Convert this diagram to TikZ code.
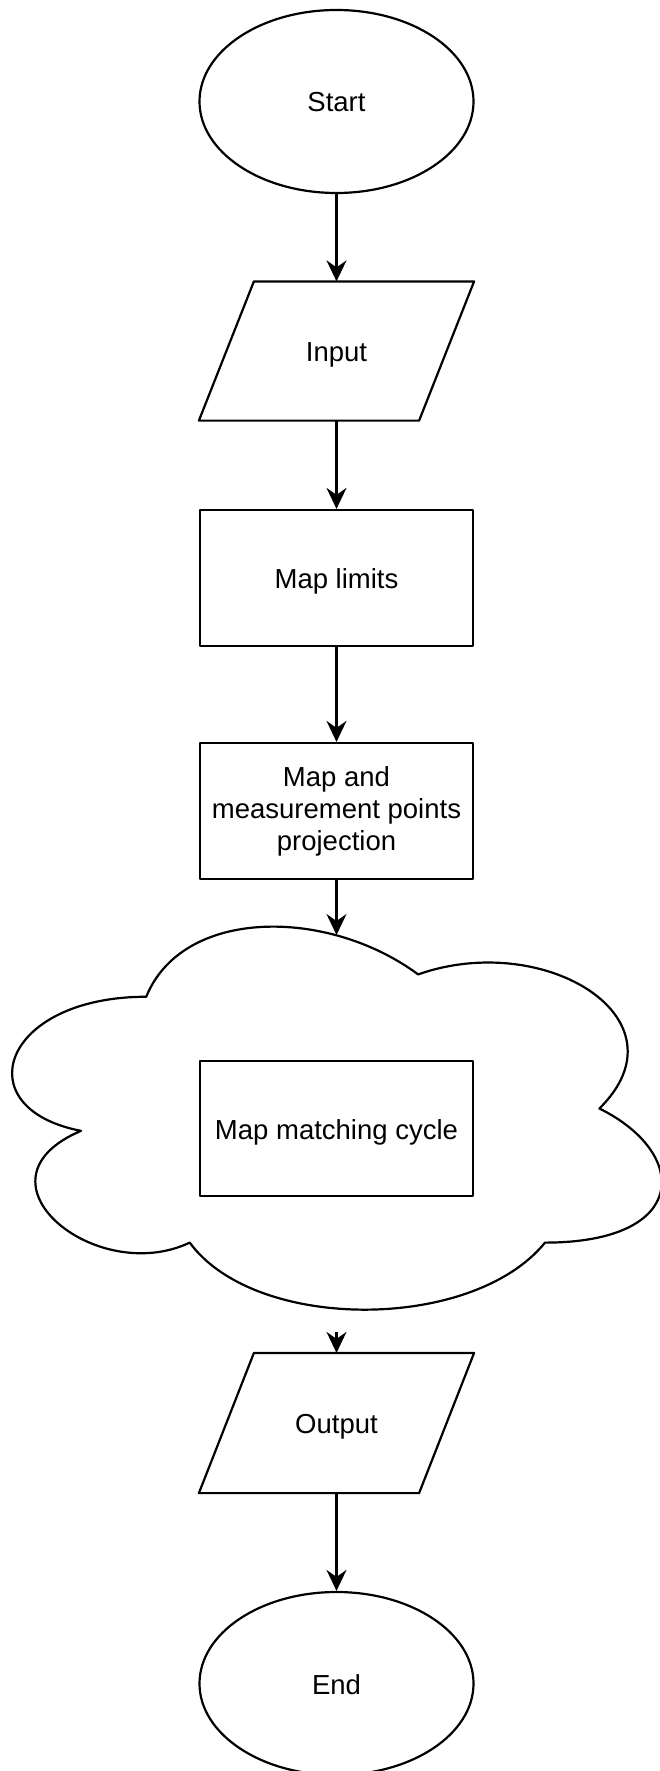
\documentclass[tikz,border=0pt]{standalone}
\usepackage{fontspec}
\setmainfont{Liberation Sans}
\usetikzlibrary{arrows.meta,shapes.geometric}

\begin{document}
\begin{tikzpicture}[x=1pt, y=-1pt, line width=2.2pt, line join=round,
  every node/.style={font=\fontsize{27.5}{32}\selectfont, align=center, inner sep=0pt},
  oneline/.style={text height=21pt, text depth=0pt},
  term/.style={draw, ellipse, oneline, minimum width=274pt, minimum height=183pt},
  procbox/.style={draw, rectangle, minimum width=273pt, minimum height=136pt},
  iobox/.style={rectangle, oneline, minimum width=273pt, minimum height=137pt},
  arr/.style={-{Stealth[length=21pt, width=20pt, inset=7pt]}}]
  \useasboundingbox (0,0) rectangle (659,1771);

  % terminals, steps and data boxes
  \node[term] (start) at (336.5,101.5) {Start};
  \node[iobox] (input) at (336.5,351) {Input};
  \node[procbox, oneline] (limits) at (336.5,578) {Map limits};
  \node[procbox] (proj) at (336.5,811) {Map and\\measurement points\\projection};
  \node[procbox, oneline, minimum height=135pt] (cycle) at (336.5,1128.5) {Map matching cycle};
  \node[iobox, minimum height=138pt] (output) at (336.5,1423) {Output};
  \node[term] (end) at (336.5,1683.5) {End};

  % parallelograms for the data boxes
  \foreach \n in {input, output}
    \draw ([xshift=55pt]\n.north west) -- (\n.north east)
          -- ([xshift=-55pt]\n.south east) -- (\n.south west) -- cycle;

  % cloud around the matching loop
  \begin{scope}[shift={(-35,885)}, x=7.25pt, y=-4.47pt]
    \draw (25,25) .. controls (5,25) and (0,50) .. (16,55)
      .. controls (0,66) and (18,90) .. (31,80)
      .. controls (40,100) and (70,100) .. (80,80)
      .. controls (100,80) and (100,60) .. (87.5,50)
      .. controls (100,30) and (80,10) .. (62.5,20)
      .. controls (50,5) and (30,5) .. (25,25) -- cycle;
  \end{scope}
  \coordinate (cloudtop) at (336.5,935);
  \coordinate (cloudbot) at (336.5,1332);

  % connectors
  \draw[arr] (start) -- (input);
  \draw[arr] (input) -- (limits);
  \draw[arr] (limits) -- (proj);
  \draw[arr] (proj) -- (cloudtop);
  \draw[arr] (cloudbot) -- (output);
  \draw[arr] (output) -- (end);
\end{tikzpicture}
\end{document}
